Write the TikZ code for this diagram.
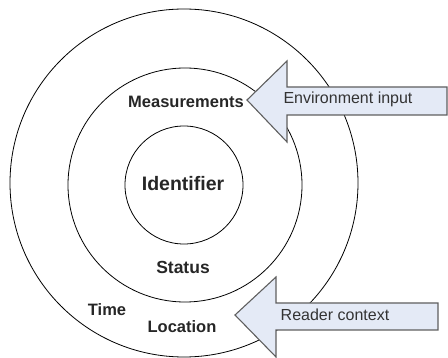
\documentclass[tikz,border=0pt]{standalone}
\usepackage{fontspec}
\setmainfont{Liberation Sans}
\definecolor{arrowfill}{RGB}{228,234,246}
\definecolor{arrowline}{RGB}{95,95,95}
\begin{document}
\begin{tikzpicture}[x=1pt,y=-1pt,
  ring/.style={draw=black,line width=0.8pt},
  label/.style={font=\fontsize{16.5}{18}\selectfont\bfseries,text=black!85,inner sep=0pt},
  inlabel/.style={font=\fontsize{16}{18}\selectfont,text=black!80,inner sep=0pt},
  inflow/.style={draw=arrowline,line width=1.1pt,fill=arrowfill,line join=miter}]
  \useasboundingbox (0,0) rectangle (448,358);
  % concentric rings
  \draw[ring] (184,183) circle[radius=174];
  \draw[ring] (185,185) circle[radius=117];
  \draw[ring] (184,185) circle[radius=59];
  % labels in the rings
  \node[label,font=\fontsize{19.5}{21}\selectfont\bfseries] (ident) at (183,184) {Identifier};
  \node[label] (meas) at (186,102) {Measurements};
  \node[label,font=\fontsize{17.5}{19}\selectfont\bfseries] (status) at (183,267) {Status};
  \node[label] (time) at (107,310) {Time};
  \node[label] (loc) at (182,327) {Location};
  % incoming arrows
  \draw[inflow] (247,100) -- (287,61) -- (287,87) -- (447,87) -- (447,115)
    -- (287,115) -- (287,142) -- cycle;
  \node[inlabel] (env) at (348,99) {Environment input};
  \draw[inflow] (235,315) -- (276,277) -- (276,303) -- (438,303) -- (438,330)
    -- (276,330) -- (276,357) -- cycle;
  \node[inlabel] (reader) at (335,315) {Reader context};
\end{tikzpicture}
\end{document}
